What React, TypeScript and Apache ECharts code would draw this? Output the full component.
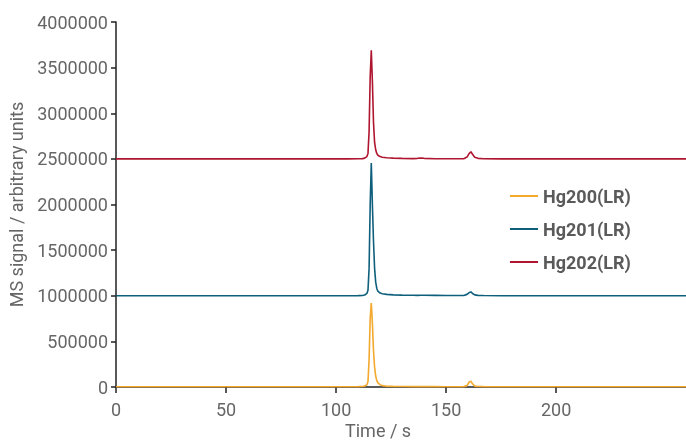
import React, { useEffect, useRef } from "react";
import * as echarts from "echarts";

const times = [0, 10, 30, 50, 70, 90, 105, 110, 112, 113, 114, 114.5, 115, 115.5, 116, 116.5, 117, 117.5, 118, 118.5, 119, 120, 121, 123, 126, 130, 135, 137, 138.5, 140, 145, 150, 155, 158, 159.5, 160.5, 161.3, 162, 163, 164.5, 167, 175, 185, 195, 210, 230, 259];

const hg200 = [3000, 3000, 3000, 3000, 3000, 3000, 3000, 4000, 6000, 10000, 25000, 60000, 300000, 750000, 920000, 700000, 400000, 220000, 120000, 70000, 45000, 25000, 15000, 9000, 7000, 5000, 4000, 4000, 5000, 4000, 4000, 3000, 3000, 4000, 15000, 55000, 62000, 35000, 10000, 5000, 4000, 3000, 3000, 3000, 3000, 3000, 3000];

const hg201 = [1000000, 1000000, 1000000, 1000000, 1000000, 1000000, 1000000, 1001000, 1003000, 1008000, 1025000, 1060000, 1300000, 2000000, 2455000, 2000000, 1600000, 1300000, 1150000, 1080000, 1050000, 1030000, 1022000, 1015000, 1010000, 1007000, 1005000, 1004000, 1006000, 1005000, 1004000, 1003000, 1002000, 1003000, 1015000, 1035000, 1042000, 1025000, 1010000, 1004000, 1002000, 1000000, 1000000, 1000000, 1000000, 1000000, 1000000];

const hg202 = [2500000, 2500000, 2500000, 2500000, 2500000, 2500000, 2500000, 2501000, 2503000, 2508000, 2525000, 2560000, 2800000, 3400000, 3690000, 3350000, 2900000, 2680000, 2600000, 2560000, 2540000, 2525000, 2518000, 2512000, 2508000, 2505000, 2503000, 2506000, 2510000, 2506000, 2502000, 2501000, 2501000, 2502000, 2520000, 2560000, 2578000, 2550000, 2518000, 2506000, 2502000, 2500000, 2500000, 2500000, 2500000, 2500000, 2500000];

const seriesNames = ["Hg200(LR)", "Hg201(LR)", "Hg202(LR)"];
const seriesColors = ["#f2a92e", "#0e5f7c", "#b0152f"];
const xTickValues = [0, 50, 100, 150, 200];

export default function App() {
  const ref = useRef<HTMLDivElement>(null);
  useEffect(() => {
    if (!ref.current) return;
    const chart = echarts.init(ref.current, null, { renderer: "svg" });
    const font = "Roboto";
    const allData = [hg200, hg201, hg202];
    chart.setOption({
      animation: false,
      grid: { left: 116, right: 0, top: 22, bottom: 57, containLabel: false, outerBoundsMode: "none" },
      legend: {
        orient: "vertical",
        left: 505,
        top: 182,
        itemWidth: 28,
        itemHeight: 14,
        itemGap: 15,
        icon: "path://M0,6 L28,6 L28,8 L0,8 Z",
        data: seriesNames,
        textStyle: { fontFamily: font, fontSize: 18, fontWeight: "bold", color: "#5a5a5a" },
      },
      xAxis: {
        type: "value",
        min: 0,
        max: 259,
        splitLine: { show: false },
        axisLine: { lineStyle: { color: "#222", width: 1.5 } },
        axisTick: { show: true, length: 6, customValues: xTickValues, lineStyle: { color: "#222", width: 1.5 } },
        axisLabel: { customValues: xTickValues, margin: 13, fontFamily: font, fontSize: 18, color: "#666" },
      },
      yAxis: {
        type: "value",
        min: 0,
        max: 4000000,
        interval: 500000,
        name: "MS signal / arbitrary units",
        nameLocation: "middle",
        nameGap: 91,
        nameTextStyle: { fontFamily: font, fontSize: 18, color: "#666" },
        splitLine: { show: false },
        axisLine: { show: true, lineStyle: { color: "#222", width: 1.5 } },
        axisTick: { show: true, length: 5, lineStyle: { color: "#222", width: 1.5 } },
        axisLabel: {
          margin: 8,
          fontFamily: font,
          fontSize: 18,
          color: "#666",
          formatter: (v: number) => String(Math.round(v)),
        },
      },
      graphic: [
        {
          type: "text",
          left: 345,
          top: 421,
          style: { text: "Time / s", fontFamily: font, fontSize: 18, fill: "#666" },
        },
      ],
      series: seriesNames.map((name, i) => ({
        name,
        type: "line",
        symbol: "none",
        smooth: false,
        color: seriesColors[i],
        lineStyle: { width: 1.6, color: seriesColors[i] },
        data: times.map((t, j) => [t, allData[i][j]]),
      })),
    });
    return () => chart.dispose();
  }, []);
  return <div ref={ref} style={{ position: "fixed", left: 0, top: 0, width: 686, height: 444 }} />;
}
